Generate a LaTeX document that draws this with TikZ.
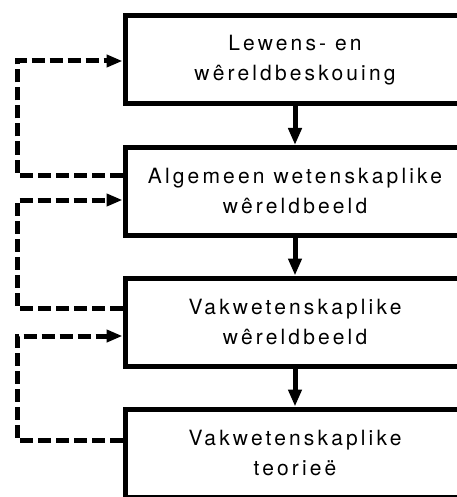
\documentclass[tikz,border=0pt]{standalone}
\usepackage{fontspec}
\setmainfont{TeX Gyre Heros}[LetterSpace=15]
\usetikzlibrary{arrows.meta}
\begin{document}
\begin{tikzpicture}[x=1pt,y=-1pt,
  box/.style={draw, line width=5pt, minimum width=340pt, minimum height=88pt,
    align=center, inner sep=0pt, font=\fontsize{21}{30}\selectfont},
  down/.style={line width=5pt, -{Triangle[length=17pt,width=13pt]}},
  fb/.style={line width=5pt, dash pattern=on 13pt off 5pt, -{Triangle[length=16pt,width=12pt]}}]
\useasboundingbox (0,0) rectangle (456,497);
\node[box] (b1) at (295,60) {Lewens- en\\wêreldbeskouing};
\node[box] (b2) at (295,191.5) {Algemeen wetenskaplike\\wêreldbeeld};
\node[box] (b3) at (295,322) {Vakwetenskaplike\\wêreldbeeld};
\node[box] (b4) at (295,453) {Vakwetenskaplike\\teorieë};
\draw[down] (b1.south) -- (b2.north);
\draw[down] (b2.south) -- (b3.north);
\draw[down] (b3.south) -- (b4.north);
\coordinate (k1a) at (17,175);
\coordinate (k1b) at (17,61);
\coordinate (k2a) at (17,308);
\coordinate (k2b) at (17,200);
\coordinate (k3a) at (17,440);
\coordinate (k3b) at (17,336);
\draw[fb] (b2.west |- k1a) -- (k1a) -- (k1b) -- (b1.west |- k1b);
\draw[fb] (b3.west |- k2a) -- (k2a) -- (k2b) -- (b2.west |- k2b);
\draw[fb] (b4.west |- k3a) -- (k3a) -- (k3b) -- (b3.west |- k3b);
\end{tikzpicture}
\end{document}
